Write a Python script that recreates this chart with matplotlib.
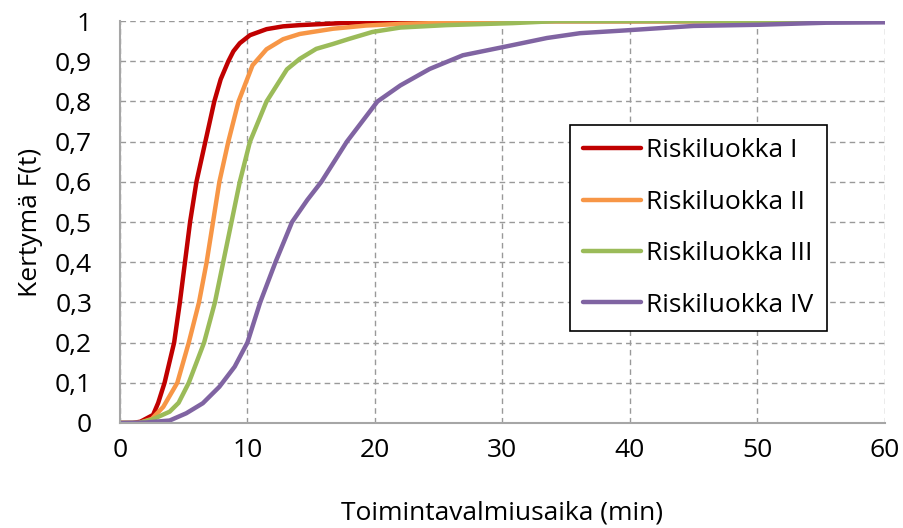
import matplotlib
matplotlib.use("Agg")
import matplotlib.pyplot as plt
from matplotlib.ticker import FuncFormatter

plt.rcParams['font.family'] = ['Open Sans', 'DejaVu Sans']

# values (minutes, cumulative share)
t_r1 = [0, 1.0, 1.6, 2.6, 3.0, 3.5, 4.25, 4.7, 5.1, 5.5, 6.0, 6.7, 7.4, 7.9, 8.5, 8.9, 9.4, 10.2, 11.5, 12.8, 14.1, 18, 22, 60]
f_r1 = [0, 0, 0.003, 0.02, 0.05, 0.1, 0.2, 0.3, 0.4, 0.5, 0.6, 0.7, 0.8, 0.855, 0.9, 0.925, 0.945, 0.965, 0.98, 0.987, 0.99, 0.996, 1.0, 1.0]

t_r2 = [0, 1.5, 2.5, 3.4, 4.5, 5.4, 6.2, 6.8, 7.3, 7.8, 8.5, 9.3, 10.4, 11.5, 12.8, 14.1, 16.7, 19.3, 22, 27, 32, 60]
f_r2 = [0, 0, 0.01, 0.04, 0.1, 0.2, 0.3, 0.4, 0.5, 0.6, 0.7, 0.8, 0.89, 0.93, 0.955, 0.968, 0.981, 0.989, 0.993, 0.997, 1.0, 1.0]

t_r3 = [0, 1.5, 2.5, 3.9, 4.6, 5.4, 6.6, 7.45, 8.1, 8.75, 9.4, 10.2, 11.5, 13.1, 14.1, 15.4, 16.7, 18.0, 19.8, 22, 25.6, 30.8, 34.2, 60]
f_r3 = [0, 0, 0.008, 0.028, 0.05, 0.1, 0.2, 0.3, 0.4, 0.5, 0.6, 0.7, 0.8, 0.88, 0.906, 0.931, 0.943, 0.956, 0.973, 0.984, 0.99, 0.995, 1.0, 1.0]

t_r4 = [0, 2, 3.9, 5.2, 6.5, 7.8, 9.0, 10.0, 11.0, 12.2, 13.5, 14.7, 15.8, 17.8, 20.2, 22.0, 24.3, 26.9, 30, 33.5, 36.1, 39.7, 45, 50.2, 55.4, 60]
f_r4 = [0, 0.001, 0.006, 0.024, 0.049, 0.09, 0.14, 0.2, 0.3, 0.4, 0.5, 0.555, 0.6, 0.7, 0.8, 0.84, 0.881, 0.915, 0.935, 0.958, 0.97, 0.977, 0.988, 0.991, 0.996, 0.997]

labels = ['Riskiluokka I', 'Riskiluokka II', 'Riskiluokka III', 'Riskiluokka IV']
colors = ['#C00000', '#F79646', '#9BBB59', '#8064A2']

fig = plt.figure(figsize=(9.04, 5.28), dpi=100)
ax = fig.add_axes([0.1327, 0.199, 0.846, 0.761])

series = [(t_r1, f_r1), (t_r2, f_r2), (t_r3, f_r3), (t_r4, f_r4)]
for (t, f), lab, col in zip(series, labels, colors):
    ax.plot(t, f, color=col, lw=3.2, label=lab, solid_capstyle='round')

ax.set_xlim(0, 60)
ax.set_ylim(0, 1)
ax.set_xticks(range(0, 61, 10))
ax.set_yticks([i / 10 for i in range(11)])
ax.yaxis.set_major_formatter(FuncFormatter(lambda v, p: ('%g' % round(v, 1)).replace('.', ',')))
ax.tick_params(labelsize=19, length=0)
ax.tick_params(axis='y', pad=20)
ax.tick_params(axis='x', pad=11)

ax.grid(True, color='#999999', linestyle=(0, (4, 3)), lw=1)
for s in ['top', 'right']:
    ax.spines[s].set_visible(False)
for s in ['left', 'bottom']:
    ax.spines[s].set_color('#A6A6A6')
    ax.spines[s].set_linewidth(1.5)

ax.set_xlabel('Toimintavalmiusaika (min)', fontsize=19, labelpad=27)
ax.set_ylabel('Kertymä F(t)', fontsize=19, labelpad=9)

leg = ax.legend(loc='upper left', bbox_to_anchor=(0.588, 0.741), fontsize=19,
                frameon=True, fancybox=False, edgecolor='black', framealpha=1,
                handlelength=2.2, handletextpad=0.2, labelspacing=1.0,
                borderpad=0.5, borderaxespad=0)
leg.get_frame().set_linewidth(1.2)

fig.savefig('out.png', dpi=100)
